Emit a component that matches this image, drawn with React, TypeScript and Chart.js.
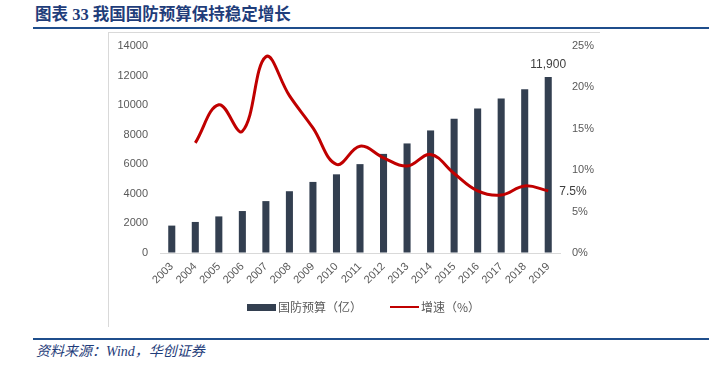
import React, { useEffect, useRef } from "react";
import { Chart, registerables } from "chart.js";

Chart.register(...registerables);

const years = ["2003","2004","2005","2006","2007","2008","2009","2010","2011","2012","2013","2014","2015","2016","2017","2018","2019"];
const budget = [1853, 2100, 2475, 2838, 3510, 4178, 4807, 5321, 6011, 6703, 7410, 8289, 9088, 9766, 10444, 11070, 11900];
const growth = [null, 13.3, 17.9, 14.7, 23.7, 19.0, 15.1, 10.7, 12.9, 11.5, 10.5, 11.9, 9.6, 7.5, 7.0, 8.1, 7.5];
const leftTicks = [0, 2000, 4000, 6000, 8000, 10000, 12000, 14000];
const rightTicks = [0, 5, 10, 15, 20, 25];
const budgetLabel = "国防预算（亿）";
const growthLabel = "增速（%）";
const lastBudgetText = "11,900";
const lastGrowthText = "7.5%";

const BAR = "#333F50";
const RED = "#C00000";
const GRAY = "#595959";
const NAVY = "#1F3D7A";

const labelPlugin = {
  id: "endLabels",
  afterDatasetsDraw(chart: any) {
    const ctx = chart.ctx;
    ctx.save();
    ctx.font = "12px 'Liberation Sans', Arial, sans-serif";
    ctx.fillStyle = "#404040";
    const m0 = chart.getDatasetMeta(0);
    const b = m0.data[m0.data.length - 1];
    ctx.textAlign = "center";
    ctx.textBaseline = "bottom";
    ctx.fillText(lastBudgetText, b.x, b.y - 6);
    const m1 = chart.getDatasetMeta(1);
    const p = m1.data[m1.data.length - 1];
    ctx.textAlign = "left";
    ctx.textBaseline = "middle";
    ctx.fillText(lastGrowthText, p.x + 11, p.y + 1);
    ctx.restore();
  },
};

const hiddenGrid = {
  display: true,
  drawOnChartArea: false,
  drawTicks: true,
  tickLength: 12,
  color: "rgba(0,0,0,0)",
  tickColor: "rgba(0,0,0,0)",
};

export default function App() {
  const ref = useRef<HTMLCanvasElement>(null);
  useEffect(() => {
    if (!ref.current) return;
    const chart = new Chart(ref.current, {
      type: "bar",
      data: {
        labels: years,
        datasets: [
          {
            type: "bar",
            label: budgetLabel,
            data: budget,
            backgroundColor: BAR,
            yAxisID: "y",
            barPercentage: 0.6,
            categoryPercentage: 0.5,
            order: 2,
          },
          {
            type: "line",
            label: growthLabel,
            data: growth as any,
            borderColor: RED,
            backgroundColor: RED,
            borderWidth: 3,
            pointRadius: 0,
            tension: 0.4,
            yAxisID: "y1",
            order: 1,
          },
        ],
      },
      options: {
        animation: false,
        responsive: false,
        maintainAspectRatio: false,
        layout: { padding: { top: 13, bottom: 37, left: 0, right: 0 } },
        plugins: { legend: { display: false }, tooltip: { enabled: false } },
        scales: {
          x: {
            grid: { display: false, drawTicks: false },
            border: { display: true, color: "#D9D9D9", width: 1 },
            ticks: {
              color: GRAY,
              font: { size: 11, family: "'Liberation Sans', Arial, sans-serif" },
              minRotation: 45,
              maxRotation: 45,
              padding: 7,
              autoSkip: false,
            },
            afterFit(s: any) { s.height = 40; },
          },
          y: {
            position: "left",
            min: 0,
            max: 14000,
            grid: hiddenGrid,
            border: { display: false },
            afterBuildTicks(s: any) { s.ticks = leftTicks.map((v) => ({ value: v })); },
            ticks: {
              color: GRAY,
              font: { size: 11, family: "'Liberation Sans', Arial, sans-serif" },
              padding: 0,
              callback: (v: any) => String(v),
            },
            afterFit(s: any) { s.width = 52; },
          },
          y1: {
            position: "right",
            min: 0,
            max: 25,
            grid: hiddenGrid,
            border: { display: false },
            afterBuildTicks(s: any) { s.ticks = rightTicks.map((v) => ({ value: v })); },
            ticks: {
              color: GRAY,
              font: { size: 11, family: "'Liberation Sans', Arial, sans-serif" },
              padding: 0,
              callback: (v: any) => v + "%",
            },
            afterFit(s: any) { s.width = 40; },
          },
        },
      },
      plugins: [labelPlugin],
    } as any);
    return () => chart.destroy();
  }, []);

  return (
    <div style={{ position: "absolute", left: 0, top: 0, width: 721, height: 365, background: "#fff", overflow: "hidden" }}>
      <div style={{ position: "absolute", left: 35, top: 5, fontFamily: "'Liberation Serif', 'Noto Sans CJK SC', serif", fontWeight: "bold", fontSize: 16.5, color: NAVY, whiteSpace: "nowrap", lineHeight: "20px" }}>
        图表 33 我国国防预算保持稳定增长
      </div>
      <div style={{ position: "absolute", left: 33, top: 27, width: 676, height: 2, background: "#1F4E8C" }} />
      <div style={{ position: "absolute", left: 108, top: 32, width: 492, height: 1, background: "#D9D9D9" }} />
      <div style={{ position: "absolute", left: 108, top: 32, width: 1, height: 295, background: "#D9D9D9" }} />
      <canvas ref={ref} width={492} height={297} style={{ position: "absolute", left: 108, top: 33, width: 492, height: 297 }} />
      <div style={{ position: "absolute", left: 247, top: 298, display: "flex", alignItems: "center", fontFamily: "'Noto Sans CJK SC', sans-serif", fontSize: 12, color: GRAY, lineHeight: "18px", whiteSpace: "nowrap" }}>
        <span style={{ display: "inline-block", width: 29, height: 7, background: BAR, marginRight: 2 }} />
        <span>{budgetLabel}</span>
        <span style={{ display: "inline-block", width: 29, height: 2, background: RED, marginLeft: 28, marginRight: 2 }} />
        <span>{growthLabel}</span>
      </div>
      <div style={{ position: "absolute", left: 33, top: 338, width: 676, height: 2, background: "#1F4E8C" }} />
      <div style={{ position: "absolute", left: 36, top: 343, fontFamily: "'Liberation Serif', 'Noto Sans CJK SC', serif", fontStyle: "italic", fontSize: 14, color: NAVY, whiteSpace: "nowrap", lineHeight: "18px" }}>
        资料来源：Wind，华创证券
      </div>
    </div>
  );
}
